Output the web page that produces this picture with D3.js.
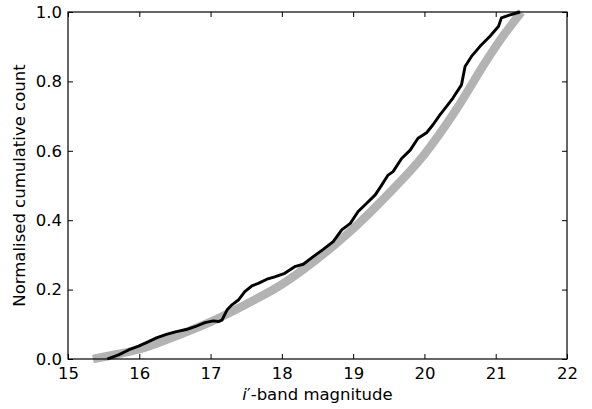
<!DOCTYPE html>
<html>
<head>
<meta charset="utf-8">
<script src="https://cdn.jsdelivr.net/npm/d3@7"></script>
<style>
  body { margin: 0; background: #fff; }
  text { font-family: "DejaVu Sans", sans-serif; fill: #000; }
</style>
</head>
<body>
<svg id="chart" width="592" height="409"></svg>
<script>
// observed cumulative count (black)
let obsMag = [15.55, 15.71, 15.85, 15.99, 16.13, 16.24, 16.38, 16.52, 16.66, 16.78, 16.92, 17.04, 17.11, 17.16,
  17.23, 17.30, 17.39, 17.48, 17.58, 17.67, 17.79, 17.90, 18.04, 18.18, 18.30, 18.44, 18.58, 18.72, 18.84,
  18.96, 19.07, 19.19, 19.31, 19.40, 19.49, 19.56, 19.68, 19.80, 19.91, 20.03, 20.12, 20.22, 20.30, 20.40,
  20.52, 20.57, 20.66, 20.78, 20.92, 21.04, 21.08, 21.18, 21.34]
let obsCount = [0.0, 0.012, 0.026, 0.037, 0.05, 0.061, 0.071, 0.079, 0.085, 0.093, 0.105, 0.11, 0.108, 0.112,
  0.141, 0.156, 0.17, 0.194, 0.211, 0.218, 0.23, 0.237, 0.247, 0.266, 0.273, 0.295, 0.316, 0.338, 0.372,
  0.391, 0.425, 0.449, 0.473, 0.501, 0.53, 0.54, 0.578, 0.602, 0.636, 0.652, 0.675, 0.704, 0.725, 0.752,
  0.79, 0.843, 0.872, 0.901, 0.93, 0.959, 0.983, 0.99, 1.0]

// model curve (grey)
let modelMag = [15.35, 15.6, 16.0, 16.5, 17.0, 17.5, 18.0, 18.3, 18.9, 19.5, 20.0, 20.45, 20.87, 21.1, 21.36]
let modelCount = [0.0, 0.01, 0.028, 0.065, 0.107, 0.158, 0.215, 0.258, 0.357, 0.477, 0.59, 0.72, 0.86, 0.93, 1.0]

let xTicks = [15, 16, 17, 18, 19, 20, 21, 22]
let yTicks = [0.0, 0.2, 0.4, 0.6, 0.8, 1.0]

let svg = d3.select("#chart")
let mLeft = 68, mTop = 12, mRight = 567, mBottom = 359
let w = mRight - mLeft
let h = mBottom - mTop

let g = svg.append("g")
  .attr("transform", "translate(" + mLeft + "," + mTop + ")")

let x = d3.scaleLinear().domain([15, 22]).range([0, w])
let y = d3.scaleLinear().domain([0, 1]).range([h, 0])

let model = modelMag.map((m, i) => ({ m: m, v: modelCount[i] }))
let obs = obsMag.map((m, i) => ({ m: m, v: obsCount[i] }))

g.append("path")
  .datum(model)
  .attr("fill", "none")
  .attr("stroke", "#b3b3b3")
  .attr("stroke-width", 8.5)
  .attr("d", d3.line()
    .curve(d3.curveMonotoneX)
    .x((d) => { return x(d.m) })
    .y((d) => { return y(d.v) }))

g.append("path")
  .datum(obs)
  .attr("fill", "none")
  .attr("stroke", "#000")
  .attr("stroke-width", 2.9)
  .attr("stroke-linejoin", "round")
  .attr("d", d3.line()
    .x((d) => { return x(d.m) })
    .y((d) => { return y(d.v) }))

// axes, ticks pointing inward on all four sides
let fmtY = d3.format(".1f")

let xb = g.append("g")
  .attr("transform", "translate(0," + h + ")")
  .call(d3.axisBottom(x).tickValues(xTicks).tickSizeInner(-5).tickSizeOuter(0).tickPadding(8).tickFormat(d3.format("d")))
let xt = g.append("g")
  .call(d3.axisTop(x).tickValues(xTicks).tickSizeInner(-5).tickSizeOuter(0).tickFormat(""))
let yl = g.append("g")
  .call(d3.axisLeft(y).tickValues(yTicks).tickSizeInner(-5).tickSizeOuter(0).tickPadding(6).tickFormat(fmtY))
let yr = g.append("g")
  .attr("transform", "translate(" + w + ",0)")
  .call(d3.axisRight(y).tickValues(yTicks).tickSizeInner(-5).tickSizeOuter(0).tickFormat(""))

;[xb, xt, yl, yr].forEach((a) => {
  a.select(".domain").remove()
  a.selectAll("line").attr("stroke", "#000").attr("stroke-width", 1)
  a.selectAll("text").attr("font-size", "16.5px").attr("font-family", "DejaVu Sans").attr("fill", "#000")
})

g.append("rect")
  .attr("x", 0).attr("y", 0)
  .attr("width", w).attr("height", h)
  .attr("fill", "none")
  .attr("stroke", "#000")
  .attr("stroke-width", 1.2)

// labels
let xl = svg.append("text")
  .attr("x", mLeft + w / 2)
  .attr("y", 400)
  .attr("text-anchor", "middle")
  .attr("font-size", "16.5px")
xl.append("tspan").attr("font-style", "italic").text("i")
xl.append("tspan").text("\u2032-band magnitude")

svg.append("text")
  .attr("transform", "translate(25," + (mTop + h / 2) + ") rotate(-90)")
  .attr("text-anchor", "middle")
  .attr("font-size", "16.5px")
  .text("Normalised cumulative count")
</script>
</body>
</html>
